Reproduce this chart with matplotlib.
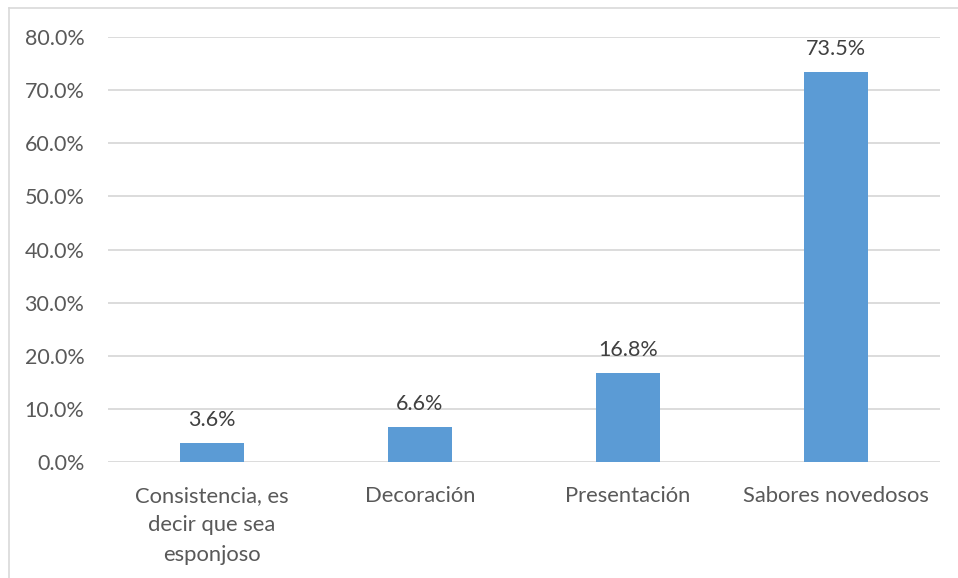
import matplotlib
matplotlib.use("Agg")
import matplotlib.pyplot as plt
from matplotlib.lines import Line2D
from matplotlib.ticker import FuncFormatter

categories = ["Consistencia, es\ndecir que sea\nesponjoso", "Decoración", "Presentación", "Sabores novedosos"]
values = [3.6, 6.6, 16.8, 73.5]
yticks = [0, 10, 20, 30, 40, 50, 60, 70, 80]

bar_color = "#5B9BD5"
text_color = "#595959"
grid_color = "#D9D9D9"

plt.rcParams["font.family"] = ["Lato", "DejaVu Sans"]

W, H = 958, 578
fig = plt.figure(figsize=(W / 100, H / 100), dpi=100)
ax = fig.add_axes([108 / W, (H - 462) / H, (940 - 108) / W, (462 - 37) / H])

x = list(range(len(categories)))
ax.bar(x, values, width=0.31, color=bar_color, zorder=3)

for xi, v in zip(x, values):
    ax.annotate(f"{v:.1f}%", (xi, v), xytext=(0, 9), textcoords="offset points",
                ha="center", va="bottom", fontsize=15.5, color="#404040")

ax.set_xlim(-0.5, len(categories) - 0.5)
ax.set_ylim(0, 80)
ax.set_yticks(yticks)
ax.yaxis.set_major_formatter(FuncFormatter(lambda v, p: f"{v:.1f}%"))
ax.set_xticks(x)
ax.set_xticklabels(categories, fontsize=15.8, color=text_color, linespacing=1.6)
ax.tick_params(axis="y", labelsize=15.5, labelcolor=text_color, length=0, pad=17)
ax.tick_params(axis="x", length=0, pad=17)

ax.grid(axis="y", color=grid_color, linewidth=1.3, zorder=0)
for s in ax.spines.values():
    s.set_visible(False)

# outer chart frame (top and left edges)
fig.add_artist(Line2D([8.5 / W, 1.0], [(H - 7.5) / H] * 2, color="#D9D9D9", lw=1.2, transform=fig.transFigure))
fig.add_artist(Line2D([8.5 / W] * 2, [0, (H - 7.5) / H], color="#D9D9D9", lw=1.2, transform=fig.transFigure))

fig.savefig("out.png", dpi=100)
